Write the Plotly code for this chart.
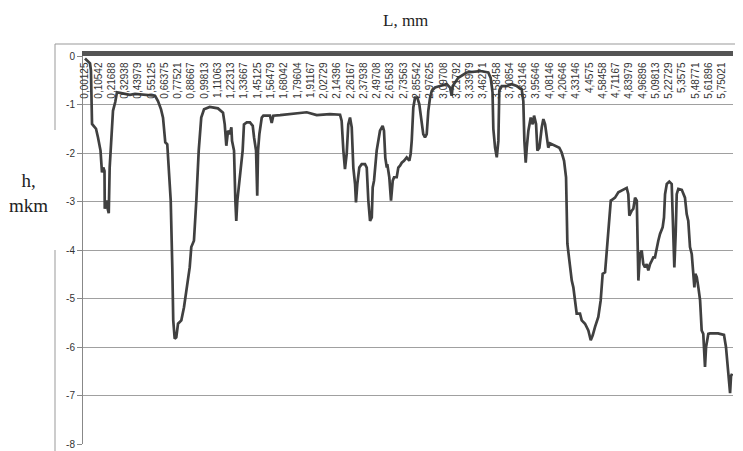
import plotly.graph_objects as go

# Category tick labels (L, mm) shown along the top axis
tick_labels = ["0,00125", "0,10542", "0,21688", "0,32938", "0,43979", "0,55125", "0,66375",
               "0,77521", "0,88667", "0,99813", "1,11063", "1,22313", "1,33667", "1,45125",
               "1,56479", "1,68042", "1,79604", "1,91167", "2,02729", "2,14396", "2,26167",
               "2,37938", "2,49708", "2,61583", "2,73563", "2,85542", "2,97625", "3,09708",
               "3,21792", "3,33979", "3,46271", "3,58458", "3,70854", "3,83146", "3,95646",
               "4,08146", "4,20646", "4,33146", "4,4575", "4,58458", "4,71167", "4,83979",
               "4,96896", "5,09813", "5,22729", "5,3575", "5,48771", "5,61896", "5,75021"]
tick_pos = list(range(len(tick_labels)))

# Profile samples: position along the category axis (in label steps) and depth h (mkm)
pos = [0, 0.23, 0.38, 0.45, 0.53, 0.68, 0.83, 0.98, 1.17, 1.23, 1.28, 1.38, 1.47, 1.49, 1.61,
       1.68, 1.79, 1.86, 1.98, 2.11, 2.28, 2.41, 2.64, 3.01, 3.39, 3.77, 4.15, 4.52, 4.90,
       5.28, 5.50, 5.73, 5.88, 6.05, 6.20, 6.31, 6.46, 6.58, 6.65, 6.76, 6.88, 7.01, 7.26,
       7.46, 7.63, 7.89, 8.01, 8.21, 8.39, 8.57, 8.76, 8.97, 9.40, 10.02, 10.40, 10.53,
       10.65, 10.78, 10.91, 11.03, 11.08, 11.23, 11.33, 11.40, 11.48, 11.68, 11.88, 11.98,
       12.19, 12.43, 12.64, 12.74, 12.89, 12.98, 13.04, 13.14, 13.32, 13.44, 13.94, 14.07,
       14.19, 14.70, 15.45, 15.95, 16.71, 17.46, 18.46, 19.22, 19.34, 19.47, 19.59, 19.72,
       19.84, 19.97, 20.10, 20.22, 20.35, 20.42, 20.52, 20.67, 20.85, 21.10, 21.23, 21.35,
       21.48, 21.61, 21.68, 21.78, 21.98, 22.23, 22.43, 22.53, 22.63, 22.74, 22.78, 22.93,
       23.06, 23.19, 23.29, 23.49, 23.61, 23.74, 23.87, 24.04, 24.24, 24.44, 24.54, 24.62,
       24.74, 24.87, 25.04, 25.19, 25.37, 25.49, 25.62, 25.75, 25.87, 26.00, 26.13, 26.38,
       26.75, 27.26, 27.51, 27.63, 27.71, 27.88, 28.13, 28.76, 29.77, 30.39, 30.57, 30.71,
       30.77, 30.90, 31.03, 31.15, 31.22, 31.40, 31.78, 32.16, 32.53, 32.91, 33.03, 33.11,
       33.21, 33.29, 33.41, 33.59, 33.74, 33.84, 33.99, 34.09, 34.24, 34.42, 34.54, 34.67,
       34.79, 34.91, 35.04, 35.42, 35.74, 35.92, 36.10, 36.25, 36.30, 36.35, 36.50, 36.68,
       36.80, 36.93, 37.05, 37.30, 37.43, 37.68, 37.93, 38.11, 38.26, 38.43, 38.68, 38.86,
       39.01, 39.19, 39.31, 39.44, 39.51, 39.62, 39.69, 39.94, 40.19, 40.57, 40.82, 40.94,
       41.02, 41.20, 41.32, 41.45, 41.58, 41.70, 41.82, 41.95, 42.07, 42.20, 42.33, 42.45,
       42.58, 42.71, 42.83, 42.95, 43.08, 43.20, 43.33, 43.53, 43.63, 43.71, 43.84, 44.03,
       44.21, 44.33, 44.41, 44.51, 44.59, 44.71, 44.97, 45.21, 45.34, 45.46, 45.59, 45.72,
       45.84, 45.92, 45.99, 46.10, 46.22, 46.35, 46.47, 46.59, 46.72, 46.80, 46.97, 47.10,
       47.70, 48.15, 48.30, 48.46, 48.61, 48.68, 48.76]
h = [-0.05, -0.10, -0.15, -0.30, -1.40, -1.45, -1.50, -1.68, -1.95, -2.20, -2.40, -2.30,
     -2.37, -3.15, -2.98, -3.12, -3.24, -2.30, -1.61, -1.13, -0.95, -0.75, -0.76, -0.78,
     -0.80, -0.78, -0.79, -0.80, -0.80, -0.82, -0.93, -1.10, -1.27, -1.78, -1.82, -2.37,
     -2.98, -4.36, -5.45, -5.83, -5.80, -5.52, -5.45, -5.18, -4.84, -4.36, -3.94, -3.81,
     -2.98, -1.95, -1.27, -1.10, -1.05, -1.08, -1.17, -1.41, -1.85, -1.54, -1.61, -1.47,
     -1.75, -1.95, -2.98, -3.40, -2.98, -2.43, -1.95, -1.41, -1.37, -1.37, -1.44, -1.68,
     -1.95, -2.88, -1.95, -1.61, -1.27, -1.23, -1.23, -1.38, -1.23, -1.22, -1.20, -1.19,
     -1.16, -1.22, -1.20, -1.21, -1.34, -1.95, -2.33, -2.02, -1.41, -1.27, -1.47, -2.30,
     -2.64, -3.02, -2.64, -2.30, -2.23, -2.23, -2.30, -2.98, -3.40, -3.33, -2.71, -2.57,
     -1.95, -1.54, -1.44, -1.54, -2.10, -2.30, -2.23, -2.50, -2.98, -2.57, -2.50, -2.50,
     -2.30, -2.26, -2.20, -2.16, -2.09, -2.16, -2.02, -1.75, -1.06, -0.86, -0.86, -0.99,
     -1.34, -1.61, -1.68, -1.61, -1.13, -0.86, -0.72, -0.65, -0.62, -0.58, -0.65, -0.82,
     -0.62, -0.55, -0.45, -0.34, -0.31, -0.34, -0.45, -0.75, -1.50, -1.89, -2.09, -1.75,
     -0.72, -0.62, -0.62, -0.58, -0.62, -0.69, -0.93, -1.75, -2.20, -1.89, -1.54, -1.27,
     -1.41, -1.23, -1.40, -1.95, -1.89, -1.47, -1.30, -1.41, -1.61, -1.89, -1.80, -1.85,
     -1.89, -1.99, -2.16, -2.50, -3.33, -3.87, -4.22, -4.63, -4.77, -5.04, -5.31, -5.31,
     -5.45, -5.52, -5.66, -5.86, -5.76, -5.59, -5.38, -5.04, -4.49, -4.46, -4.01, -3.60,
     -3.46, -2.98, -2.97, -2.92, -2.81, -2.76, -2.72, -2.85, -3.29, -3.19, -3.15, -2.92,
     -2.98, -4.63, -4.08, -4.01, -4.29, -4.36, -4.29, -4.42, -4.29, -4.22, -4.15, -4.15,
     -3.94, -3.81, -3.67, -3.53, -3.33, -2.85, -2.64, -2.59, -2.64, -3.53, -4.36, -3.67,
     -2.85, -2.74, -2.76, -2.92, -3.26, -3.40, -3.94, -4.08, -4.49, -4.77, -4.49, -4.56,
     -4.77, -5.04, -5.66, -5.73, -6.41, -6.00, -5.73, -5.72, -5.72, -5.75, -6.00, -6.50,
     -6.95, -6.60, -6.55]

y_ticks = [0, -1, -2, -3, -4, -5, -6, -7, -8]
y_tick_text = ["0", "-1", "-2", "-3", "-4", "-5", "-6", "-7", "-8"]

# The page body has an 8px default margin, so the figure is drawn 8px smaller
OFF = 8
FIG_W, FIG_H = 743 - OFF, 451 - OFF
L_PX, T_PX, W_PX, H_PX = 83 - OFF, 56 - OFF, 650, 388


def px_x(v):  # page pixel -> paper fraction
    return (v - OFF - L_PX) / W_PX


def px_y(v):
    return (T_PX + H_PX - (v - OFF)) / H_PX


fig = go.Figure()
fig.add_trace(go.Scatter(x=pos, y=h, mode="lines",
                         line=dict(color="#404040", width=2.7), showlegend=False))

fig.update_layout(
    width=FIG_W, height=FIG_H,
    margin=dict(l=L_PX, r=FIG_W - L_PX - W_PX, t=T_PX, b=FIG_H - T_PX - H_PX,
                autoexpand=False),
    paper_bgcolor="white", plot_bgcolor="white",
    font=dict(family="Liberation Sans", color="#333333"),
    xaxis=dict(range=[-0.15, 48.83], side="top", tickmode="array",
               tickvals=tick_pos, ticktext=tick_labels, tickangle=-90,
               ticklabelposition="inside", ticklabeloverflow="allow", ticks="",
               tickfont=dict(size=10, color="#333333"), automargin=False,
               showgrid=False, zeroline=False,
               showline=True, linewidth=5, linecolor="#555555"),
    yaxis=dict(range=[-8, 0], tickmode="array", tickvals=y_ticks, ticktext=y_tick_text,
               ticks="outside", ticklen=5, tickcolor="#888888", automargin=False,
               ticklabeloverflow="allow",
               tickfont=dict(size=10, color="#333333"),
               showgrid=True, gridcolor="#a0a0a0", gridwidth=1.3,
               zeroline=False, showline=True, linecolor="#888888", linewidth=1),
    annotations=[
        dict(text="L, mm", xref="paper", yref="paper", x=px_x(405), y=px_y(20),
             showarrow=False, xanchor="center", yanchor="middle",
             font=dict(family="Liberation Serif", size=17, color="#222222")),
        dict(text="h,<br>mkm", xref="paper", yref="paper",
             x=px_x(28), y=px_y(193), showarrow=False,
             xanchor="center", yanchor="middle",
             font=dict(family="Liberation Serif", size=19, color="#222222")),
    ],
    shapes=[
        dict(type="line", xref="paper", yref="paper", x0=px_x(55), x1=px_x(743),
             y0=px_y(44), y1=px_y(44), line=dict(color="#999999", width=1)),
        dict(type="line", xref="paper", yref="paper", x0=px_x(55), x1=px_x(55),
             y0=px_y(44), y1=px_y(130), line=dict(color="#999999", width=1)),
        dict(type="line", xref="paper", yref="paper", x0=px_x(55), x1=px_x(55),
             y0=px_y(250), y1=px_y(451), line=dict(color="#999999", width=1)),
    ],
)

fig.write_html("out.html")
